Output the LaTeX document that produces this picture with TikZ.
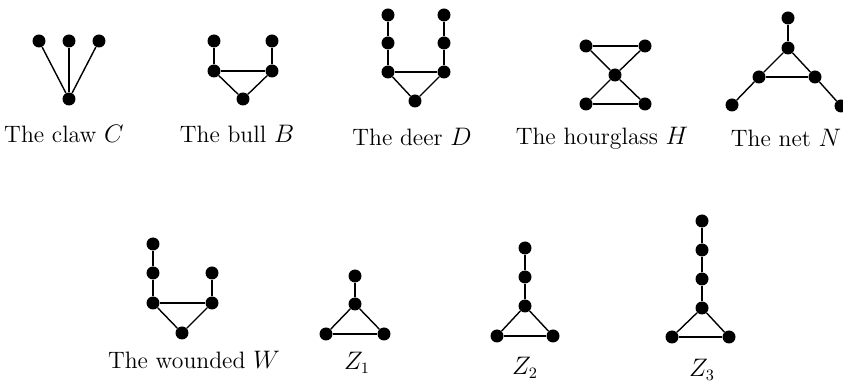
\documentclass[tikz,border=0pt]{standalone}
\usetikzlibrary{positioning}
\tikzset{
  vtx/.style={circle,fill=black,inner sep=0pt,minimum size=0.26cm},
  edge/.style={line width=0.8pt,draw=black},
  caption/.style={font=\fontsize{13.5}{16}\selectfont,inner sep=0pt}
}
\begin{document}
\begin{tikzpicture}[x=0.02cm,y=-0.02cm]
  \useasboundingbox (0,0) rectangle (843,381);

  % the claw C
  \node[vtx] (c1) at (39,41) {};
  \node[vtx] (c2) at (69,41) {};
  \node[vtx] (c3) at (99,41) {};
  \node[vtx] (c0) at (69,99) {};
  \foreach \a in {c1,c2,c3}
    \draw[edge] (\a) -- (c0);
  \node[caption] (lblC) at (64,134) {The claw $C$};

  % the bull B
  \node[vtx] (b1) at (214,41) {};
  \node[vtx] (b2) at (272,41) {};
  \node[vtx] (b3) at (214,71) {};
  \node[vtx] (b4) at (272,71) {};
  \node[vtx] (b5) at (243,99) {};
  \foreach \a/\b in {b1/b3,b2/b4,b3/b4,b3/b5,b4/b5}
    \draw[edge] (\a) -- (\b);
  \node[caption] (lblB) at (237,134) {The bull $B$};

  % the deer D
  \node[vtx] (d1) at (388,15) {};
  \node[vtx] (d2) at (388,43) {};
  \node[vtx] (d3) at (388,72) {};
  \node[vtx] (d4) at (444,15) {};
  \node[vtx] (d5) at (444,43) {};
  \node[vtx] (d6) at (444,72) {};
  \node[vtx] (d7) at (415,101) {};
  \foreach \a/\b in {d1/d2,d2/d3,d4/d5,d5/d6,d3/d6,d3/d7,d6/d7}
    \draw[edge] (\a) -- (\b);
  \node[caption] (lblD) at (412,137) {The deer $D$};

  % the hourglass H
  \node[vtx] (h1) at (586,46) {};
  \node[vtx] (h2) at (645,46) {};
  \node[vtx] (h0) at (615,75) {};
  \node[vtx] (h3) at (586,104) {};
  \node[vtx] (h4) at (645,104) {};
  \foreach \a/\b in {h1/h2,h1/h0,h2/h0,h0/h3,h0/h4,h3/h4}
    \draw[edge] (\a) -- (\b);
  \node[caption] (lblH) at (602,138) {The hourglass $H$};

  % the net N
  \node[vtx] (n1) at (788,18) {};
  \node[vtx] (n2) at (788,48) {};
  \node[vtx] (n3) at (759,77) {};
  \node[vtx] (n4) at (815,77) {};
  \node[vtx] (n5) at (732,105) {};
  \node[vtx] (n6) at (841,106) {};
  \foreach \a/\b in {n1/n2,n2/n3,n2/n4,n3/n4,n3/n5,n4/n6}
    \draw[edge] (\a) -- (\b);
  \node[caption] (lblN) at (786,138) {The net $N$};

  % the wounded W
  \node[vtx] (w1) at (153,244) {};
  \node[vtx] (w2) at (153,273) {};
  \node[vtx] (w3) at (153,303) {};
  \node[vtx] (w4) at (212,273) {};
  \node[vtx] (w5) at (212,303) {};
  \node[vtx] (w6) at (182,333) {};
  \foreach \a/\b in {w1/w2,w2/w3,w4/w5,w3/w5,w3/w6,w5/w6}
    \draw[edge] (\a) -- (\b);
  \node[caption] (lblW) at (194,360) {The wounded $W$};

  % Z1
  \node[vtx] (za1) at (355,276) {};
  \node[vtx] (za2) at (355,304) {};
  \node[vtx] (za3) at (326,334) {};
  \node[vtx] (za4) at (384,334) {};
  \foreach \a/\b in {za1/za2,za2/za3,za2/za4,za3/za4}
    \draw[edge] (\a) -- (\b);
  \node[caption] (lblZa) at (357,363) {$Z_1$};

  % Z2
  \node[vtx] (zb1) at (525,248) {};
  \node[vtx] (zb2) at (525,277) {};
  \node[vtx] (zb3) at (525,306) {};
  \node[vtx] (zb4) at (497,336) {};
  \node[vtx] (zb5) at (553,336) {};
  \foreach \a/\b in {zb1/zb2,zb2/zb3,zb3/zb4,zb3/zb5,zb4/zb5}
    \draw[edge] (\a) -- (\b);
  \node[caption] (lblZb) at (525,368) {$Z_2$};

  % Z3
  \node[vtx] (zc1) at (702,221) {};
  \node[vtx] (zc2) at (702,250) {};
  \node[vtx] (zc3) at (702,279) {};
  \node[vtx] (zc4) at (702,308) {};
  \node[vtx] (zc5) at (672,337) {};
  \node[vtx] (zc6) at (729,337) {};
  \foreach \a/\b in {zc1/zc2,zc2/zc3,zc3/zc4,zc4/zc5,zc4/zc6,zc5/zc6}
    \draw[edge] (\a) -- (\b);
  \node[caption] (lblZc) at (702,370) {$Z_3$};
\end{tikzpicture}
\end{document}
